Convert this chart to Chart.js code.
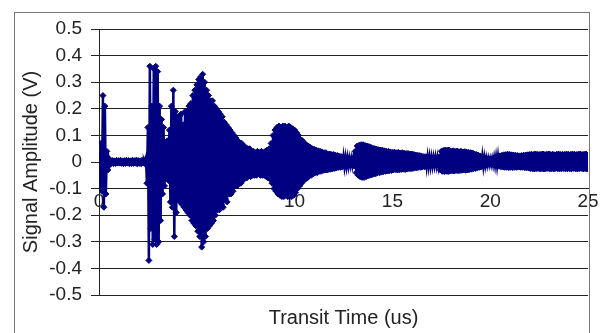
<!DOCTYPE html>
<html>
<head>
<meta charset="utf-8">
<script src="https://cdn.jsdelivr.net/npm/chart.js@4/dist/chart.umd.min.js"></script>
<style>
  html, body { margin: 0; padding: 0; background: #fff; }
</style>
</head>
<body>
<canvas id="signalChart" width="601" height="333"></canvas>
<script>
// one sample every 0.05 us (row = 1 us)
const sampleStep = 0.05;
const amplitude = [
  0.02, -0.09, 0.07, -0.11, 0.25, -0.17, 0.21, -0.12, 0.04, -0.03, 0.012, -0.01, 0.006, -0.005, 0.005, -0.006, 0.004, -0.005, 0.006, -0.004,
  0.005, -0.004, 0.006, -0.005, 0.004, -0.006, 0.005, -0.005, 0.006, -0.004, 0.005, -0.006, 0.004, -0.005, 0.006, -0.005, 0.005, -0.004, 0.006, -0.006,
  0.005, -0.005, 0.004, -0.006, 0.006, -0.004, 0.005, -0.006, 0.012, -0.08, 0.13, -0.37, 0.36, -0.25, 0.21, -0.31, 0.35, -0.29, 0.36, -0.31,
  0.34, -0.30, 0.21, -0.22, 0.16, -0.12, 0.13, -0.09, 0.07, -0.06, 0.08, -0.07, 0.12, -0.15, 0.21, -0.17, 0.27, -0.28, 0.19, -0.19,
  0.17, -0.14, 0.17, -0.15, 0.18, -0.16, 0.14, -0.17, 0.19, -0.18, 0.19, -0.19, 0.21, -0.2, 0.22, -0.22, 0.25, -0.23, 0.27, -0.24,
  0.29, -0.26, 0.31, -0.28, 0.32, -0.32, 0.33, -0.3, 0.3, -0.28, 0.27, -0.25, 0.25, -0.24, 0.23, -0.23, 0.23, -0.22, 0.21, -0.2,
  0.2, -0.18, 0.19, -0.18, 0.18, -0.16, 0.17, -0.17, 0.15, -0.14, 0.14, -0.15, 0.13, -0.12, 0.12, -0.12, 0.11, -0.11, 0.1, -0.09,
  0.09, -0.09, 0.08, -0.08, 0.07, -0.08, 0.07, -0.07, 0.06, -0.06, 0.055, -0.06, 0.05, -0.05, 0.05, -0.055, 0.04, -0.05, 0.04, -0.05,
  0.035, -0.05, 0.04, -0.045, 0.035, -0.05, 0.04, -0.05, 0.035, -0.05, 0.04, -0.055, 0.045, -0.06, 0.05, -0.065, 0.07, -0.08, 0.1, -0.1,
  0.12, -0.11, 0.13, -0.12, 0.135, -0.125, 0.13, -0.13, 0.135, -0.13, 0.135, -0.125, 0.13, -0.13, 0.135, -0.13, 0.13, -0.13, 0.125, -0.125,
  0.12, -0.115, 0.11, -0.1, 0.1, -0.09, 0.085, -0.08, 0.08, -0.07, 0.07, -0.065, 0.065, -0.06, 0.06, -0.05, 0.055, -0.05, 0.05, -0.045,
  0.048, -0.04, 0.045, -0.04, 0.042, -0.035, 0.04, -0.035, 0.038, -0.032, 0.035, -0.03, 0.035, -0.03, 0.03, -0.028, 0.03, -0.027, 0.028, -0.025,
  0.028, -0.024, 0.025, -0.022, 0.024, -0.02, 0.022, -0.02, 0.02, -0.018, 0.018, -0.016, 0.016, -0.015, 0.015, -0.014, 0.013, -0.012, 0.012, -0.012,
  0.015, -0.015, 0.04, -0.04, 0.06, -0.05, 0.063, -0.055, 0.065, -0.058, 0.065, -0.058, 0.062, -0.055, 0.06, -0.052, 0.058, -0.05, 0.055, -0.048,
  0.052, -0.045, 0.05, -0.044, 0.048, -0.04, 0.046, -0.04, 0.045, -0.038, 0.044, -0.036, 0.042, -0.035, 0.04, -0.034, 0.04, -0.033, 0.038, -0.032,
  0.036, -0.03, 0.037, -0.028, 0.035, -0.03, 0.036, -0.029, 0.034, -0.028, 0.035, -0.027, 0.033, -0.028, 0.032, -0.026, 0.032, -0.025, 0.03, -0.025,
  0.03, -0.024, 0.028, -0.022, 0.026, -0.022, 0.025, -0.02, 0.024, -0.02, 0.022, -0.018, 0.02, -0.018, 0.02, -0.016, 0.018, -0.015, 0.017, -0.014,
  0.016, -0.013, 0.015, -0.012, 0.016, -0.012, 0.015, -0.013, 0.02, -0.03, 0.04, -0.035, 0.043, -0.036, 0.045, -0.035, 0.044, -0.036, 0.045, -0.034,
  0.04, -0.033, 0.042, -0.034, 0.04, -0.032, 0.041, -0.033, 0.039, -0.032, 0.04, -0.031, 0.038, -0.03, 0.039, -0.031, 0.037, -0.03, 0.036, -0.028,
  0.035, -0.027, 0.034, -0.025, 0.03, -0.024, 0.028, -0.022, 0.025, -0.02, 0.022, -0.018, 0.02, -0.015, 0.016, -0.012, 0.013, -0.01, 0.012, -0.009,
  0.011, -0.009, 0.012, -0.01, 0.015, -0.012, 0.018, -0.014, 0.02, -0.016, 0.023, -0.018, 0.025, -0.019, 0.027, -0.02, 0.028, -0.02, 0.029, -0.021,
  0.028, -0.02, 0.027, -0.021, 0.026, -0.02, 0.025, -0.02, 0.024, -0.019, 0.023, -0.02, 0.024, -0.02, 0.025, -0.021, 0.026, -0.022, 0.027, -0.022,
  0.028, -0.024, 0.029, -0.025, 0.028, -0.026, 0.03, -0.025, 0.029, -0.024, 0.028, -0.026, 0.029, -0.025, 0.03, -0.026, 0.028, -0.025, 0.029, -0.024,
  0.03, -0.026, 0.028, -0.025, 0.029, -0.026, 0.027, -0.024, 0.029, -0.025, 0.03, -0.026, 0.028, -0.025, 0.029, -0.024, 0.028, -0.026, 0.03, -0.025,
  0.029, -0.025, 0.028, -0.026, 0.03, -0.024, 0.029, -0.025, 0.028, -0.026, 0.029, -0.025, 0.03, -0.024, 0.028, -0.026, 0.029, -0.025, 0.03, -0.026,
  0.02
];

const xTickValues = [0, 5, 10, 15, 20, 25];
const yTickValues = [0.5, 0.4, 0.3, 0.2, 0.1, 0, -0.1, -0.2, -0.3, -0.4, -0.5];
const xTitle = "Transit Time (us)";
const yTitle = "Signal Amplitude (V)";

const lineColor = "#000080";
const axisColor = "#222";

function formatTick(value) {
  const r = Math.round(value * 10) / 10;
  return r === 0 ? "0" : String(r);
}

const framePlugin = {
  id: "frame",
  beforeDraw(chart) {
    const ctx = chart.ctx;
    ctx.save();
    ctx.fillStyle = "#fff";
    ctx.fillRect(0, 0, chart.width, chart.height);
    ctx.restore();
  },
  afterDraw(chart) {
    const ctx = chart.ctx;
    ctx.save();
    ctx.strokeStyle = "#777";
    ctx.lineWidth = 1;
    ctx.strokeRect(14.5, 12.5, 575, 340);
    ctx.restore();
  }
};

Chart.defaults.font.family = "'Liberation Sans', Arial, sans-serif";
Chart.defaults.color = axisColor;

const points = amplitude.map((v, i) => ({ x: i * sampleStep, y: v }));

new Chart(document.getElementById("signalChart"), {
  type: "scatter",
  data: {
    datasets: [
      {
        data: points,
        showLine: true,
        borderColor: lineColor,
        backgroundColor: lineColor,
        borderWidth: 2.5,
        pointStyle: "rectRot",
        pointRadius: 3,
        pointBorderWidth: 1
      }
    ]
  },
  options: {
    responsive: false,
    animation: false,
    devicePixelRatio: 1,
    layout: {
      padding: { left: 14, right: 13, top: 29, bottom: 0 }
    },
    plugins: {
      legend: { display: false },
      tooltip: { enabled: false },
      title: {
        display: true,
        text: xTitle,
        position: "bottom",
        fullSize: false,
        font: { size: 20, weight: "normal" },
        padding: { top: 11, bottom: 3 },
        color: axisColor
      }
    },
    scales: {
      x: {
        type: "linear",
        min: 0,
        max: 25,
        position: { y: -0.1 },
        afterBuildTicks: scale => {
          scale.ticks = xTickValues.map(v => ({ value: v }));
        },
        ticks: {
          font: { size: 19 },
          padding: 2,
          maxRotation: 0,
          callback: v => String(v)
        },
        grid: { drawOnChartArea: false, drawTicks: false, tickLength: 0 },
        border: { display: true, color: axisColor, width: 1 }
      },
      y: {
        min: -0.5,
        max: 0.5,
        position: "left",
        afterBuildTicks: scale => {
          scale.ticks = yTickValues.map(v => ({ value: v }));
        },
        afterFit: scale => {
          scale.width = 85;
        },
        ticks: {
          font: { size: 19 },
          padding: 9,
          callback: v => formatTick(v)
        },
        grid: { color: axisColor, lineWidth: 1, drawTicks: true, tickLength: 8 },
        border: { display: true, color: axisColor, width: 1 },
        title: {
          display: true,
          text: yTitle,
          font: { size: 20 },
          padding: { top: 5, bottom: 0 },
          color: axisColor
        }
      }
    }
  },
  plugins: [framePlugin]
});
</script>
</body>
</html>
